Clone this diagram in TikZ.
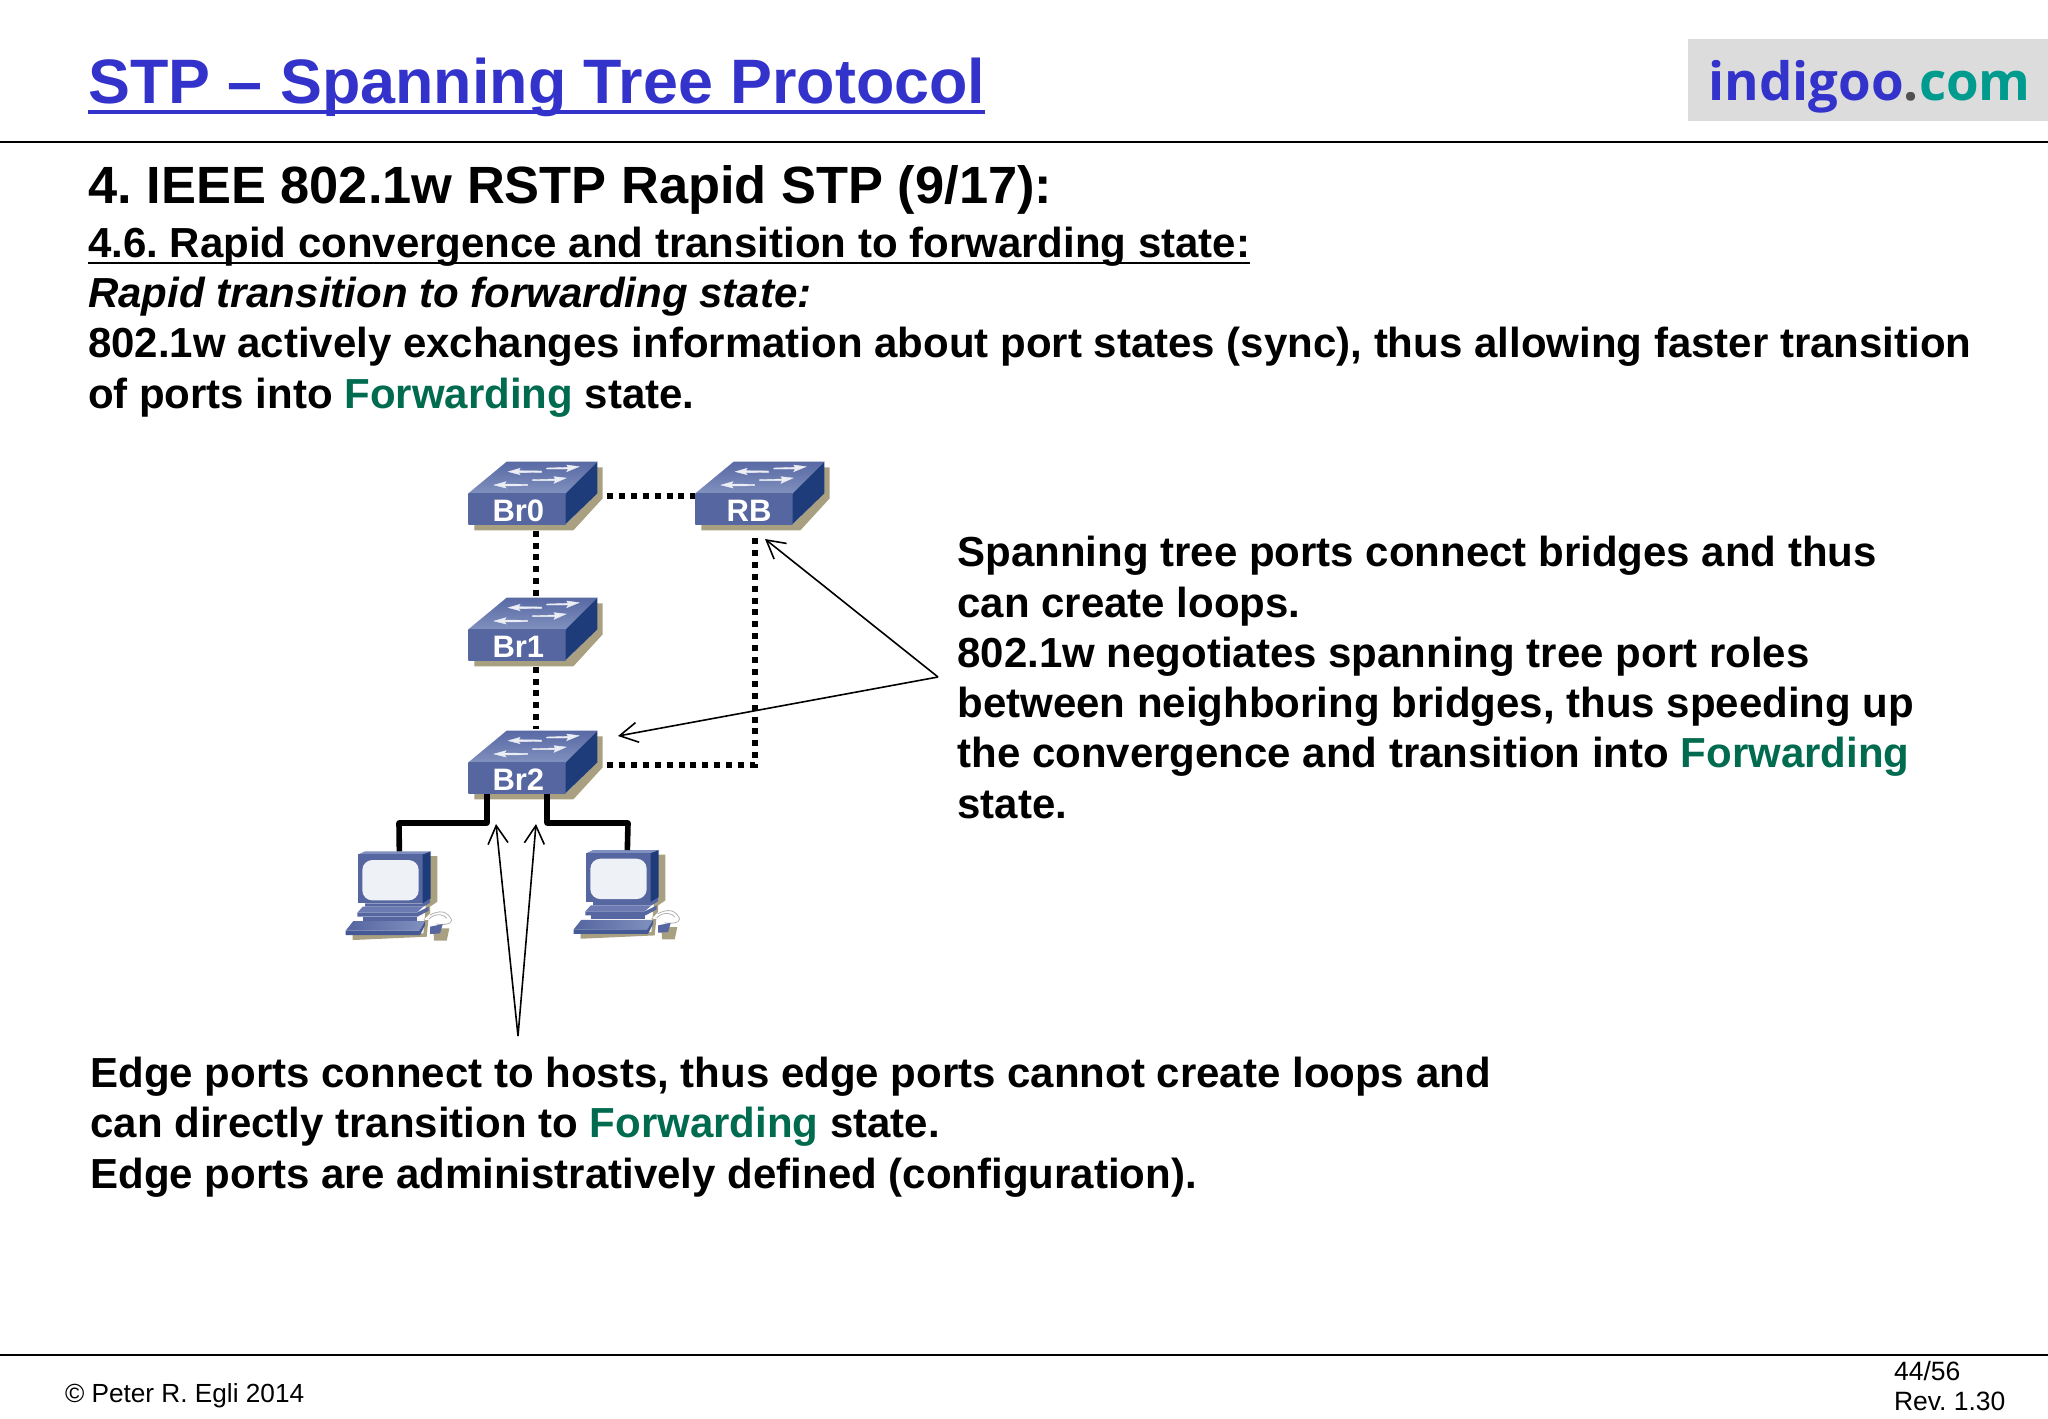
\documentclass[tikz,border=0pt]{standalone}
\usepackage{fontspec}
\setmainfont{Liberation Sans}
\newfontfamily\logofont{Open Sans}
\usetikzlibrary{arrows.meta}
\definecolor{titleblue}{HTML}{3333CC}
\definecolor{fwgreen}{HTML}{006B4F}
\definecolor{logoteal}{HTML}{009B8F}
\definecolor{logodot}{HTML}{505050}
\definecolor{logobg}{HTML}{DCDCDC}
\definecolor{swfront}{HTML}{6C7CB2}
\definecolor{swfrontb}{HTML}{5566A0}
\definecolor{swtop}{HTML}{8090BE}
\definecolor{swtopb}{HTML}{5869A4}
\definecolor{swside}{HTML}{1F3C7A}
\definecolor{swshadow}{HTML}{A8A080}
\definecolor{screen}{HTML}{EEF1F6}
\newcommand\ulined[3]{\setbox0=\hbox{#3}\rlap{\rule[-#1]{\wd0}{#2}}\box0}
\newcommand\fw{\textcolor{fwgreen}{Forwarding}}
\frenchspacing
\tikzset{
  x=0.5pt,y=-0.5pt,
  txt/.style={anchor=base west,inner sep=0pt,outer sep=0pt,font=\fontsize{21}{25.15}\bfseries\selectfont},
  para/.style={anchor=north west,inner sep=0pt,outer sep=0pt,align=left,font=\fontsize{21}{25.15}\bfseries\selectfont},
  rulel/.style={line width=1pt,black},
  dotlink/.style={line width=3.1pt,dash pattern=on 3pt off 2.95pt,black},
  edgelink/.style={line width=2.8pt,black,line join=round},
  callout/.style={line width=0.8pt,black,-{Straight Barb[length=9pt,width=10pt,line width=0.8pt]}},
  swlabel/.style={inner sep=0pt,text=white,font=\fontsize{15.5}{15.5}\bfseries\selectfont},
  foot/.style={anchor=base west,inner sep=0pt,outer sep=0pt,font=\fontsize{13.1}{13.1}\selectfont},
  wa/.style={fill=white!85!swtop,draw=white!85!swtop,line width=0.2pt},
}
\newcommand\swicon[5]{%
\begin{scope}[shift={(#2,#3)},x=0.1667pt,y=-0.1667pt]
  \fill[swshadow] (103,250)--(103,271)--(400,271)--(488,175)--(488,82)--(470,82)--(470,160)--(380,250)--cycle;
  \shade[top color=swtopb,bottom color=swtop] (85,160)--(200,65)--(472,65)--(377,160)--cycle;
  \shade[left color=swfrontb,middle color=swfront,right color=swfrontb] (85,160) rectangle (377,252);
  \fill[swside] (377,160)--(472,65)--(472,160)--(377,252)--cycle;
  \fill[wa] (205,95)--(240,85)--(235,92)--(305,93)--(305,97)--(235,98)--(240,104)--cycle;
  \fill[wa] (417,80)--(380,75)--(385,82)--(320,84)--(320,87)--(385,87)--(380,95)--cycle;
  \fill[wa] (162,135)--(198,125)--(193,132)--(262,133)--(262,137)--(193,138)--(198,144)--cycle;
  \fill[wa] (378,114)--(342,110)--(346,117)--(278,119)--(278,122)--(346,122)--(342,130)--cycle;
  \coordinate (#1-n) at (287,60);
  \coordinate (#1-s) at (287,272);
  \node[swlabel] (#1) at (#5,211) {#4};
\end{scope}}
\newcommand\hostic[3]{%
\begin{scope}[shift={(#2,#3)},x=0.1667pt,y=-0.1667pt]
  \fill[swshadow] (300,408)--(322,408)--(322,545)--(300,560)--(300,580)--(280,600)--(295,600)--(290,650)--(68,660)--(68,645)--(280,640)--cycle;
  \fill[swshadow] (310,625)--(358,625)--(350,662)--(312,662)--cycle;
  \fill[swtop] (85,403)--(105,394)--(302,394)--(278,403)--cycle;
  \fill[swfrontb] (85,403) rectangle (278,550);
  \fill[swside] (278,403)--(302,394)--(302,535)--(278,552)--cycle;
  \fill[swfrontb] (105,550)--(278,550)--(300,537)--(300,548)--(280,560)--(105,560)--cycle;
  \fill[swfront] (98,560)--(280,560)--(260,578)--(82,578)--cycle;
  \fill[swfrontb] (82,578)--(260,578)--(296,560)--(296,572)--(262,590)--(82,590)--cycle;
  \fill[swfrontb] (100,590)--(262,590)--(262,602)--(100,602)--cycle;
  \shade[left color=swfrontb,right color=swtop] (70,603)--(285,603)--(268,632)--(47,632)--cycle;
  \fill[swfrontb!70!swside] (47,632)--(268,632)--(285,603)--(285,615)--(270,645)--(47,645)--cycle;
  \fill[screen,rounded corners=5pt] (97,420) rectangle (266,541);
  \draw[gray!60,line width=0.4pt] (300,585) .. controls (345,560) and (360,590) .. (365,600) .. controls (365,615) and (335,615) .. (320,612);
  \draw[gray!60,line width=0.4pt] (296,597) .. controls (320,575) and (345,585) .. (350,595);
  \fill[swfrontb] (300,620)--(338,612)--(330,640)--(300,642)--cycle;
  \coordinate (#1-n) at (208,394);
\end{scope}}
\begin{document}
\begin{tikzpicture}
\useasboundingbox (0,0) rectangle (2048,1418);
\fill[white] (0,0) rectangle (2048,1418);
\node[anchor=base west,inner sep=0pt,font=\fontsize{31.4}{32}\bfseries\selectfont,text=titleblue] (title) at (88,103.5) {\ulined{5.5pt}{2pt}{STP – Spanning Tree Protocol}};
\fill[logobg] (1688,39) rectangle (2048,121);
\node[anchor=base west,inner sep=0pt,font=\logofont\fontsize{26.4}{26.4}\bfseries\selectfont] (logo) at (1708,101) {\textcolor{titleblue}{indigoo}\textcolor{logodot}{.}\textcolor{logoteal}{com}};
\draw[rulel] (0,141.5) -- (2048,141.5);
\node[anchor=base west,inner sep=0pt,font=\fontsize{26.2}{26.2}\bfseries\selectfont] (head) at (88,203) {4. IEEE 802.1w RSTP Rapid STP (9/17):};
\node[txt] (sub) at (88,257) {\ulined{3.5pt}{1.2pt}{4.6. Rapid convergence and transition to forwarding state:}};
\node[txt,font=\fontsize{21}{25.15}\bfseries\itshape\selectfont] (ital) at (88,307) {Rapid transition to forwarding state:};
\node[para] (intro) at (88,327.5) {802.1w actively exchanges information about port states (sync), thus allowing faster transition\\of ports into \fw{} state.};
\node[para] (right) at (957.5,536.3) {Spanning tree ports connect bridges and thus\\can create loops.\\802.1w negotiates spanning tree port roles\\between neighboring bridges, thus speeding up\\the convergence and transition into \fw{}\\state.};
\node[para] (bottom) at (90.5,1057) {Edge ports connect to hosts, thus edge ports cannot create loops and\\can directly transition to \fw{} state.\\Edge ports are administratively defined (configuration).};
\swicon{Br0}{440}{440}{Br0}{235}
\swicon{RB}{667}{440}{RB}{246}
\swicon{Br1}{440}{576}{Br1}{235}
\swicon{Br2}{440}{709}{Br2}{235}
\hostic{H1}{330}{720}
\hostic{H2}{558}{718.7}
\draw[dotlink] (Br0-s) -- (Br1-n);
\draw[dotlink] (Br1-s) -- (Br2-n);
\coordinate (Br0-e) at (607,496);
\coordinate (RB-w) at (695,496);
\coordinate (RB-d) at (755,538);
\coordinate (Br2-e) at (603,765);
\coordinate (Br2-p1) at (487,794);
\coordinate (Br2-p2) at (547,794);
\draw[dotlink] (Br0-e) -- (RB-w);
\draw[dotlink] (RB-d) |- (Br2-e);
\draw[edgelink] (Br2-p1) |- (399,823) -- (H1-n);
\draw[edgelink] (Br2-p2) |- (628,823) -- (H2-n);
\coordinate (cr) at (938,677);
\coordinate (cb) at (518,1036);
\coordinate (aRB) at (765,539);
\coordinate (aBr2) at (618,736);
\coordinate (aE1) at (496,824);
\coordinate (aE2) at (536,824);
\draw[callout] (cr) -- (aRB);
\draw[callout] (cr) -- (aBr2);
\draw[callout] (cb) -- (aE1);
\draw[callout] (cb) -- (aE2);
\draw[rulel] (0,1354.5) -- (2048,1354.5);
\node[foot] (copy) at (65,1402) {© Peter R. Egli 2014};
\node[foot,anchor=north west,align=left,font=\fontsize{13.25}{15.2}\selectfont] (page) at (1894,1361) {44/56\\Rev. 1.30};
\end{tikzpicture}
\end{document}
